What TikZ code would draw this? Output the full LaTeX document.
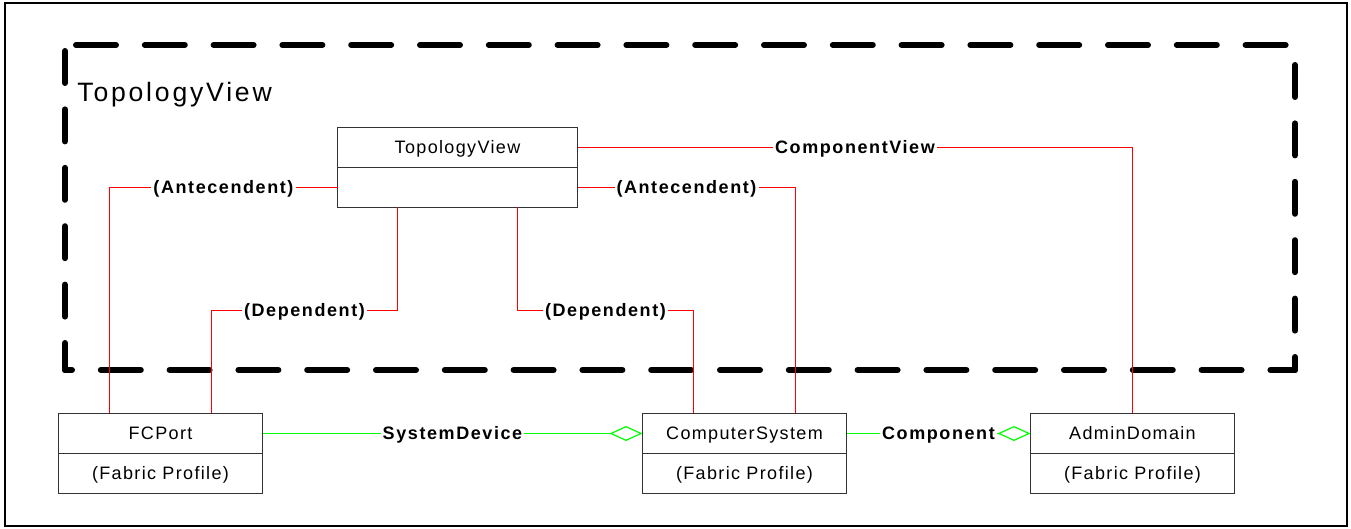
\documentclass[tikz,border=0pt]{standalone}
\usepackage{fontspec}
\setmainfont{Liberation Sans}
\newfontfamily\classfont[LetterSpace=7.5]{Liberation Sans}
\newfontfamily\rolefont[LetterSpace=8.8]{Liberation Sans Bold}
\newfontfamily\viewfont[LetterSpace=10.5]{Liberation Sans}
\usepackage{tikz}
\usetikzlibrary{arrows.meta,positioning,calc}

\begin{document}
\begin{tikzpicture}[x=0.5pt,y=-0.5pt]

\tikzstyle{cls} = [draw=black!80, line width=0.5pt, rectangle, outer sep=0pt, minimum width=102pt, minimum height=20pt, inner sep=0pt, text height=6.5pt, text depth=0pt, font=\classfont\fontsize{9}{10}\selectfont]
\tikzstyle{assoc} = [red, line width=0.6pt]
\tikzstyle{aggr} = [green, line width=0.6pt, -{Diamond[open,length=16.5pt,width=7.5pt]}]
\tikzstyle{role} = [fill=white, inner xsep=1pt, inner ysep=0.5pt, text=black, text height=6.5pt, text depth=0pt, font=\rolefont\fontsize{9}{10}\selectfont]
\tikzstyle{bound} = [line width=3pt, line cap=round]

\useasboundingbox (0,0) rectangle (1351,529);
\draw [line width=1pt] (5,3.5) rectangle (1346.5,526);
\draw [bound, dash pattern=on 20pt off 14.4pt] (76,45) -- (1290,45);
\draw [bound, dash pattern=on 20pt off 14.4pt, dash phase=16.5pt] (65,370) -- (1295,370);
\draw [bound, dash pattern=on 16pt off 13.2pt] (65,51) -- (65,370);
\draw [bound, dash pattern=on 16pt off 13.2pt] (1295,65) -- (1295,370);
\node [anchor=base west, inner sep=0pt, font=\viewfont\fontsize{13.3}{15}\selectfont] (view-title) at (77,102) {TopologyView};

\node [cls, minimum width=120pt] (tv) at (457.5,147.5) {TopologyView};
\node [cls, minimum width=120pt, below=0pt of tv] (tv-attr) {};
\node [cls] (fcport) at (160.5,433.5) {FCPort};
\node [cls, below=0pt of fcport] (fcport-prof) {(Fabric Profile)};
\node [cls] (cs) at (744.5,433.5) {ComputerSystem};
\node [cls, below=0pt of cs] (cs-prof) {(Fabric Profile)};
\node [cls] (admin) at (1132.5,433.5) {AdminDomain};
\node [cls, below=0pt of admin] (admin-prof) {(Fabric Profile)};

\draw [assoc] (tv.east) -| node[role, pos=0.25] {ComponentView} (admin.north);
\draw [assoc] (tv-attr.west) -| node[role, pos=0.25] {(Antecendent)} ($(fcport.north west)!0.25!(fcport.north east)$);
\draw [assoc] (tv-attr.east) -| node[role, pos=0.25] {(Antecendent)} ($(cs.north west)!0.75!(cs.north east)$);
\draw [assoc] ($(tv-attr.south west)!0.25!(tv-attr.south east)$) -- ++(0pt,-51.5pt) -| node[role, pos=0.25] {(Dependent)} ($(fcport.north west)!0.75!(fcport.north east)$);
\draw [assoc] ($(tv-attr.south west)!0.75!(tv-attr.south east)$) -- ++(0pt,-51.5pt) -| node[role, pos=0.25] {(Dependent)} ($(cs.north west)!0.25!(cs.north east)$);
\draw [aggr] (fcport.east) -- node[role] {SystemDevice} (cs.west);
\draw [aggr] (cs.east) -- node[role] {Component} (admin.west);
\end{tikzpicture}
\end{document}
